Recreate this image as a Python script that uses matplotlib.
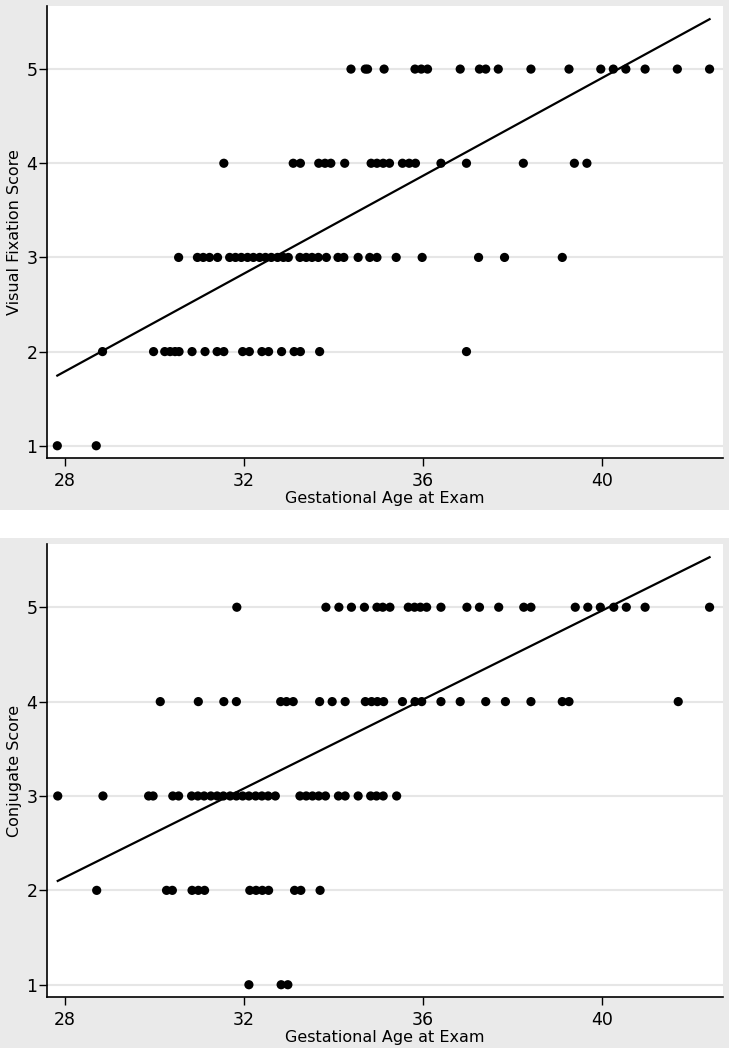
import numpy as np
import matplotlib
matplotlib.use("Agg")
import matplotlib.pyplot as plt
from matplotlib.patches import Rectangle

# ---------------- data ----------------
# Top panel: Visual Fixation Score vs gestational age
vf_age_5 = [34.39, 34.71, 34.76, 35.13, 35.82, 35.96, 36.10, 36.83, 37.26, 37.40, 37.68,
            38.41, 39.26, 39.97, 40.25, 40.53, 40.96, 41.68, 42.40]
vf_age_4 = [31.55, 33.10, 33.26, 33.67, 33.81, 33.94, 34.25, 34.84, 34.97, 35.11, 35.25,
            35.54, 35.69, 35.83, 36.40, 36.97, 38.24, 39.38, 39.66]
vf_age_3 = [30.54, 30.96, 31.09, 31.23, 31.41, 31.68, 31.81, 31.94, 32.08, 32.21, 32.35,
            32.48, 32.61, 32.75, 32.88, 32.99, 33.25, 33.39, 33.52, 33.66, 33.84, 34.10,
            34.23, 34.55, 34.81, 34.97, 35.40, 35.98, 37.24, 37.82, 39.11]
vf_age_2 = [28.84, 29.98, 30.23, 30.35, 30.46, 30.55, 30.84, 31.13, 31.40, 31.55, 31.97,
            32.12, 32.40, 32.55, 32.84, 33.12, 33.26, 33.69, 36.97]
vf_age_1 = [27.83, 28.70]

# Bottom panel: Conjugate Score vs gestational age
cj_age_5 = [31.84, 33.83, 34.12, 34.40, 34.69, 34.97, 35.10, 35.26, 35.67, 35.81, 35.94,
            36.08, 36.40, 36.98, 37.26, 37.69, 38.25, 38.41, 39.40, 39.68, 39.96, 40.26,
            40.54, 40.96, 42.40]
cj_age_4 = [30.13, 30.98, 31.55, 31.83, 32.82, 32.95, 33.10, 33.69, 33.97, 34.26, 34.71,
            34.85, 34.98, 35.12, 35.54, 35.82, 35.97, 36.40, 36.83, 37.40, 37.84, 38.41,
            39.11, 39.26, 41.70]
cj_age_3 = [27.84, 28.85, 29.87, 29.97, 30.41, 30.54, 30.83, 30.97, 31.11, 31.26, 31.40,
            31.54, 31.69, 31.83, 31.97, 32.11, 32.26, 32.40, 32.54, 32.70, 33.25, 33.39,
            33.53, 33.67, 33.82, 34.11, 34.26, 34.55, 34.83, 34.96, 35.11, 35.41]
cj_age_2 = [28.71, 30.27, 30.40, 30.84, 30.98, 31.12, 32.13, 32.27, 32.41, 32.55, 33.13,
            33.27, 33.70]
cj_age_1 = [32.11, 32.83, 32.98]

# fitted lines (endpoints)
vf_fit_x = [27.83, 42.40]
vf_fit_y = [1.745, 5.53]
cj_fit_x = [27.84, 42.40]
cj_fit_y = [2.10, 5.53]

x_ticks = [28, 32, 36, 40]
y_ticks = [1, 2, 3, 4, 5]
x_label = "Gestational Age at Exam"
vf_ylabel = "Visual Fixation Score"
cj_ylabel = "Conjugate Score"


def build(groups):
    xs, ys = [], []
    for score, ages in groups:
        xs += ages
        ys += [score] * len(ages)
    return np.array(xs), np.array(ys)


vf_x, vf_y = build([(5, vf_age_5), (4, vf_age_4), (3, vf_age_3), (2, vf_age_2), (1, vf_age_1)])
cj_x, cj_y = build([(5, cj_age_5), (4, cj_age_4), (3, cj_age_3), (2, cj_age_2), (1, cj_age_1)])

# ---------------- figure ----------------
W, H = 729, 1048
fig = plt.figure(figsize=(W / 100, H / 100), dpi=100)
plt.rcParams['font.family'] = ['DejaVu Sans']

grey = '#EAEAEA'
# grey panel backgrounds (pixel units from top)
for top, bot in [(0, 510), (538, 1048)]:
    fig.patches.append(Rectangle((0, 1 - bot / H), 1, (bot - top) / H,
                                 transform=fig.transFigure, facecolor=grey,
                                 edgecolor='none', zorder=-10))


def make_axes(top_px, bot_px):
    left, right = 47, 723
    return fig.add_axes([left / W, 1 - bot_px / H, (right - left) / W, (bot_px - top_px) / H])


panels = [
    (make_axes(6, 458), vf_x, vf_y, vf_fit_x, vf_fit_y, vf_ylabel),
    (make_axes(544, 997), cj_x, cj_y, cj_fit_x, cj_fit_y, cj_ylabel),
]

for ax, x, y, fx, fy, ylab in panels:
    ax.set_facecolor('white')
    ax.set_xlim(27.6, 42.7)
    ax.set_ylim(0.87, 5.67)
    for yt in y_ticks:
        ax.axhline(yt, color='#E6E6E6', lw=1.5, zorder=0)
    ax.scatter(x, y, s=44, color='black', edgecolors='none', zorder=3)
    ax.plot(fx, fy, color='black', lw=1.6, zorder=4)
    ax.set_xticks(x_ticks)
    ax.set_yticks(y_ticks)
    ax.tick_params(axis='both', direction='out', length=6, width=1, colors='black',
                   labelsize=12.5)
    ax.tick_params(axis='y', pad=1)
    ax.tick_params(axis='x', pad=4)
    for s in ['top', 'right']:
        ax.spines[s].set_visible(False)
    for s in ['left', 'bottom']:
        ax.spines[s].set_linewidth(1.2)
        ax.spines[s].set_color('black')
    ax.set_xlabel(x_label, fontsize=11.5, labelpad=1)
    ax.set_ylabel(ylab, fontsize=11.5, labelpad=3)

fig.savefig('out.png', dpi=100)
